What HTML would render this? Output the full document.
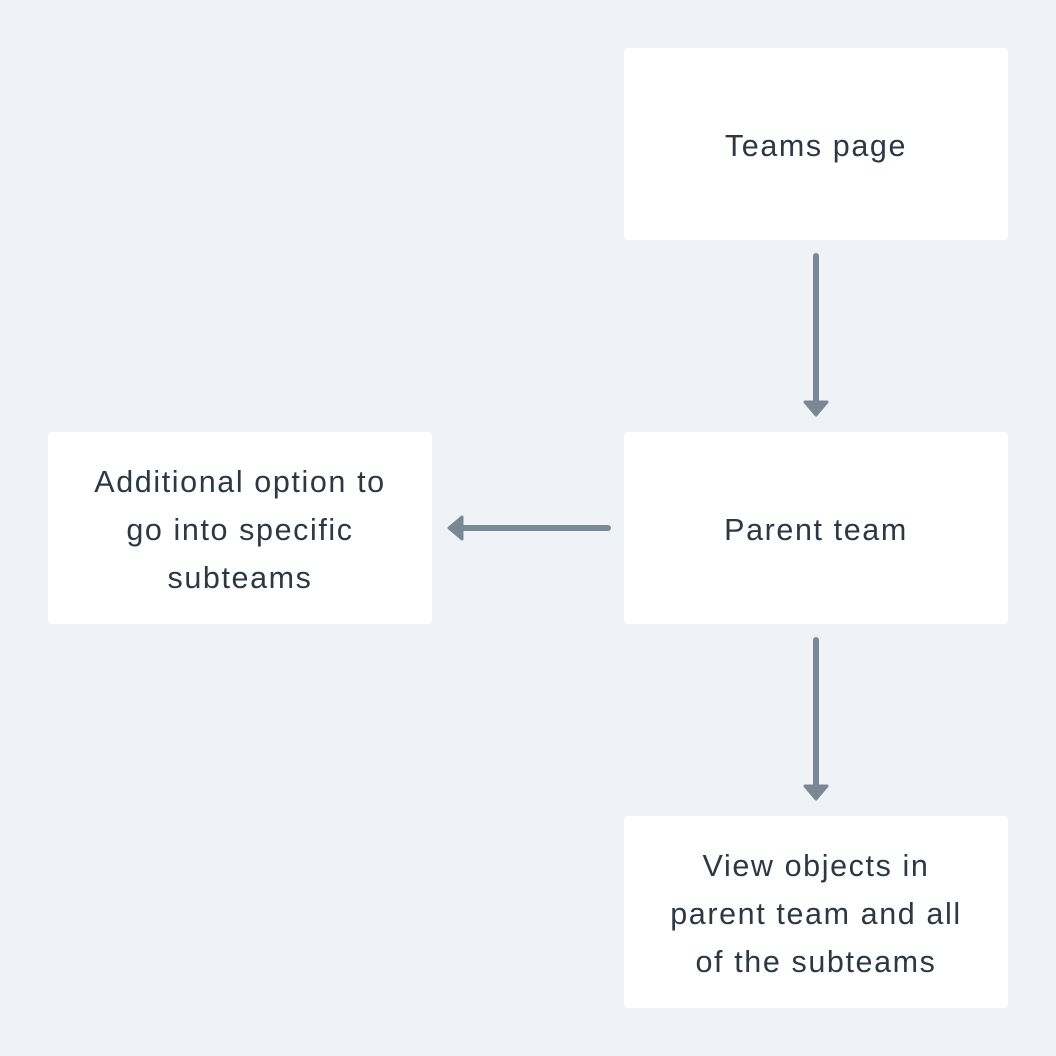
<!DOCTYPE html>
<html><head><meta charset="utf-8"><style>
html,body{margin:0;padding:0}
body{width:1056px;height:1056px;background:#eff3f7;position:relative;overflow:hidden;font-family:"Liberation Sans",sans-serif}
.b{position:absolute;width:384px;height:192px;box-sizing:border-box;padding-top:4px;background:#fff;border-radius:4px;display:flex;align-items:center;justify-content:center;text-align:center;color:#2b3846;font-size:30.5px;line-height:48px;letter-spacing:1.6px}
</style></head><body>
<div class="b" style="left:624px;top:48px">Teams page</div>
<div class="b" style="left:624px;top:432px">Parent team</div>
<div class="b" style="left:48px;top:432px">Additional option to<br>go into specific<br>subteams</div>
<div class="b" style="left:624px;top:816px">View objects in<br>parent team and all<br>of the subteams</div>
<svg width="1056" height="1056" style="position:absolute;left:0;top:0">
<g stroke="#7a8795" fill="#7a8795" stroke-linejoin="round" stroke-linecap="round">
<line x1="816" y1="256" x2="816" y2="402" stroke-width="6"/>
<polygon points="805,402 827,402 816,415" stroke-width="3"/>
<line x1="816" y1="640" x2="816" y2="786" stroke-width="6"/>
<polygon points="805,786 827,786 816,799" stroke-width="3"/>
<line x1="608" y1="528" x2="462" y2="528" stroke-width="6"/>
<polygon points="462,517 462,539 449,528" stroke-width="3"/>
</g></svg>
</body></html>
